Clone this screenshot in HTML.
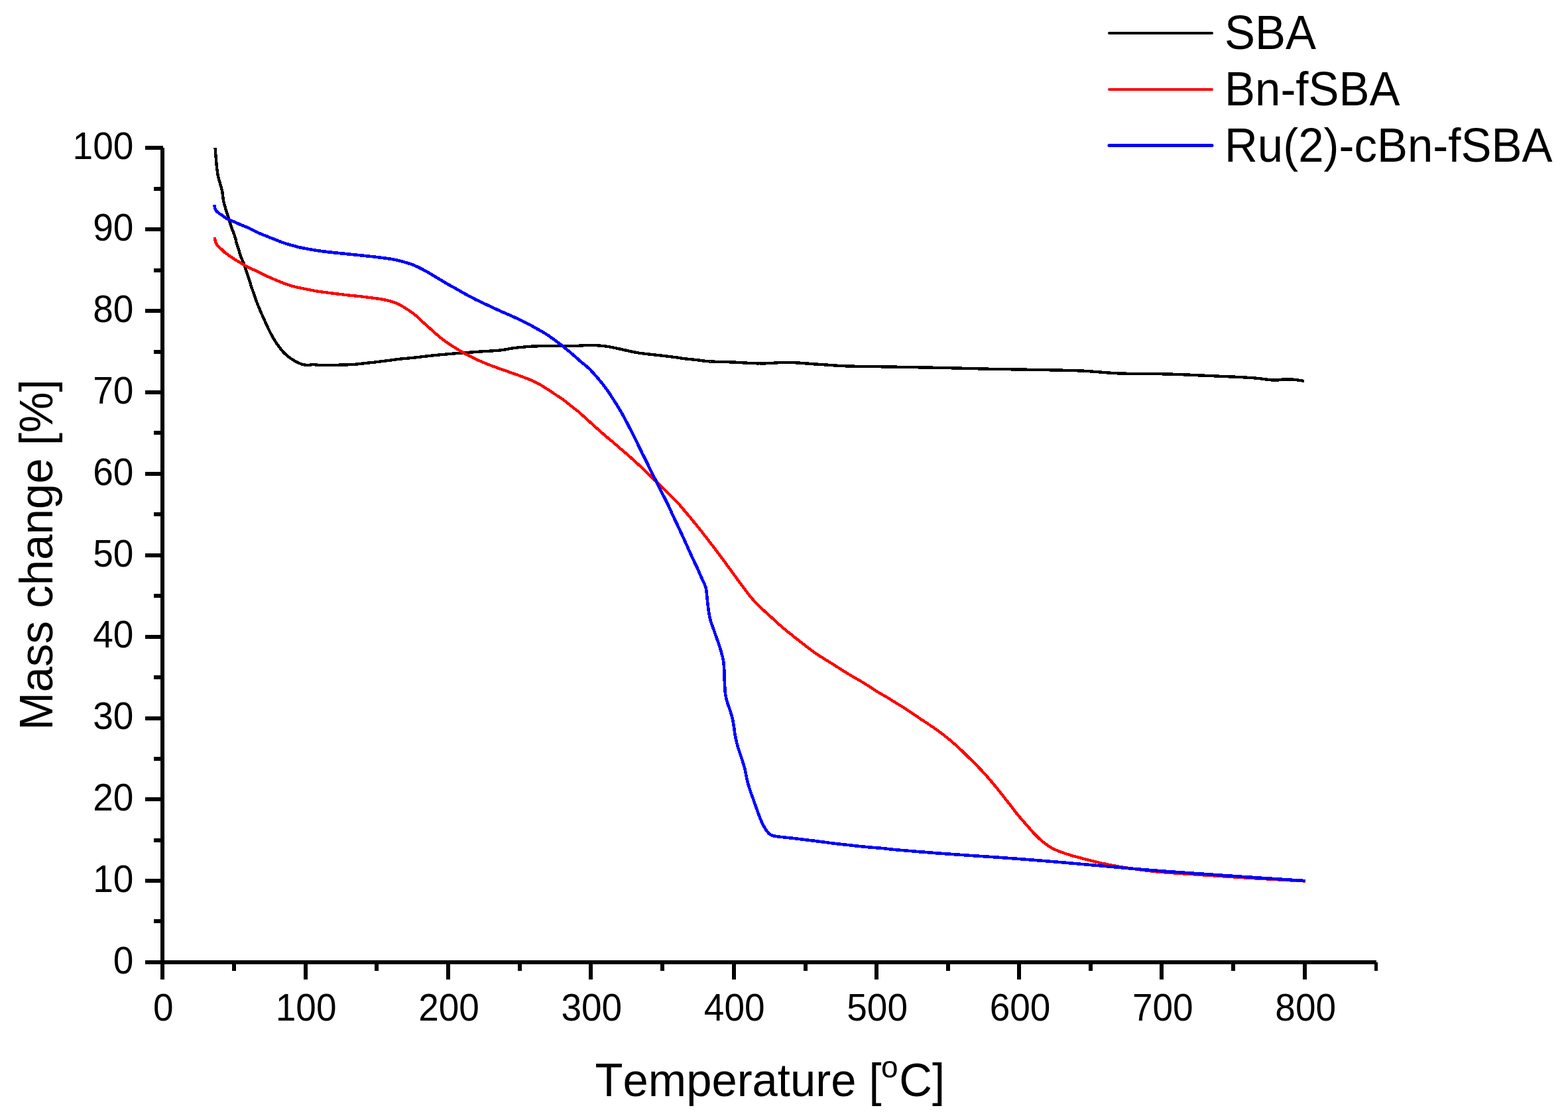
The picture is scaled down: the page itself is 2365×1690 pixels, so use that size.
<!DOCTYPE html>
<html lang="en">
<head>
<meta charset="utf-8">
<title>TGA mass change vs temperature</title>
<style>
html,body{margin:0;padding:0;background:#fff;}
body{width:2365px;height:1690px;overflow:hidden;}
svg{display:block;}
text{font-family:"Liberation Sans",Arial,Helvetica,sans-serif;fill:#000;font-kerning:none;font-variant-ligatures:none;}
.tick{font-size:55px;}
.title{font-size:68.8px;}
.leg{font-size:69px;}
.ax{fill:#000;shape-rendering:crispEdges;}
.curve{fill:none;stroke-width:4.4;stroke-linejoin:round;stroke-linecap:butt;shape-rendering:crispEdges;}
</style>
</head>
<body>
<svg width="2365" height="1690" viewBox="0 0 2365 1690">
<rect x="0" y="0" width="2365" height="1690" fill="#fff"/>
<g class="ax">
<rect x="242" y="223" width="6" height="1255"/>
<rect x="219" y="1449" width="1857" height="6"/>
<rect x="232" y="1387" width="12" height="6"/>
<rect x="219" y="1326" width="27" height="6"/>
<rect x="232" y="1265" width="12" height="6"/>
<rect x="219" y="1203" width="27" height="6"/>
<rect x="232" y="1142" width="12" height="6"/>
<rect x="219" y="1081" width="27" height="6"/>
<rect x="232" y="1019" width="12" height="6"/>
<rect x="219" y="958" width="27" height="6"/>
<rect x="232" y="896" width="12" height="6"/>
<rect x="219" y="835" width="27" height="6"/>
<rect x="232" y="773" width="12" height="6"/>
<rect x="219" y="712" width="27" height="6"/>
<rect x="232" y="650" width="12" height="6"/>
<rect x="219" y="589" width="27" height="6"/>
<rect x="232" y="528" width="12" height="6"/>
<rect x="219" y="466" width="27" height="6"/>
<rect x="232" y="405" width="12" height="6"/>
<rect x="219" y="343" width="27" height="6"/>
<rect x="232" y="282" width="12" height="6"/>
<rect x="219" y="220" width="27" height="6"/>
<rect x="350" y="1452" width="6" height="13"/>
<rect x="458" y="1452" width="6" height="26"/>
<rect x="565" y="1452" width="6" height="13"/>
<rect x="673" y="1452" width="6" height="26"/>
<rect x="781" y="1452" width="6" height="13"/>
<rect x="888" y="1452" width="6" height="26"/>
<rect x="996" y="1452" width="6" height="13"/>
<rect x="1104" y="1452" width="6" height="26"/>
<rect x="1212" y="1452" width="6" height="13"/>
<rect x="1319" y="1452" width="6" height="26"/>
<rect x="1427" y="1452" width="6" height="13"/>
<rect x="1534" y="1452" width="6" height="26"/>
<rect x="1642" y="1452" width="6" height="13"/>
<rect x="1749" y="1452" width="6" height="26"/>
<rect x="1857" y="1452" width="6" height="13"/>
<rect x="1965" y="1452" width="6" height="26"/>
<rect x="2073" y="1452" width="5" height="13"/>
</g>
<g class="tick">
<text transform="translate(201.3 1469.0) scale(1 1.028)" text-anchor="end">0</text>
<text transform="translate(201.3 1346.1) scale(1 1.028)" text-anchor="end">10</text>
<text transform="translate(201.3 1223.2) scale(1 1.028)" text-anchor="end">20</text>
<text transform="translate(201.3 1100.3) scale(1 1.028)" text-anchor="end">30</text>
<text transform="translate(201.3 977.4) scale(1 1.028)" text-anchor="end">40</text>
<text transform="translate(201.3 854.5) scale(1 1.028)" text-anchor="end">50</text>
<text transform="translate(201.3 731.6) scale(1 1.028)" text-anchor="end">60</text>
<text transform="translate(201.3 608.7) scale(1 1.028)" text-anchor="end">70</text>
<text transform="translate(201.3 485.8) scale(1 1.028)" text-anchor="end">80</text>
<text transform="translate(201.3 362.9) scale(1 1.028)" text-anchor="end">90</text>
<text transform="translate(201.3 240.0) scale(1 1.028)" text-anchor="end">100</text>
<text transform="translate(246.2 1539.6) scale(1 1.028)" text-anchor="middle">0</text>
<text transform="translate(461.6 1539.6) scale(1 1.028)" text-anchor="middle">100</text>
<text transform="translate(677.0 1539.6) scale(1 1.028)" text-anchor="middle">200</text>
<text transform="translate(892.3 1539.6) scale(1 1.028)" text-anchor="middle">300</text>
<text transform="translate(1107.7 1539.6) scale(1 1.028)" text-anchor="middle">400</text>
<text transform="translate(1323.1 1539.6) scale(1 1.028)" text-anchor="middle">500</text>
<text transform="translate(1538.5 1539.6) scale(1 1.028)" text-anchor="middle">600</text>
<text transform="translate(1753.8 1539.6) scale(1 1.028)" text-anchor="middle">700</text>
<text transform="translate(1969.2 1539.6) scale(1 1.028)" text-anchor="middle">800</text>
</g>
<text class="title" transform="translate(0 1653.9) scale(1 1.020)"><tspan x="897.6">Temperature [</tspan><tspan x="1329.1" dy="-27.6" font-size="46">o</tspan><tspan x="1356.3" dy="27.6">C]</tspan></text>
<text class="title" style="font-size:69.05px" transform="translate(79 1102.0) rotate(-90) scale(1 1.020)">Mass change [%]</text>
<g class="curve">
<path stroke="#000" d="M324.5 223.0L
324.7 225.0 324.8 227.0 325.0 229.0 325.2 231.0 325.3 233.0 325.5 235.0 325.6 237.0 325.8 238.9 326.0 240.9
326.1 242.9 326.3 244.9 326.4 246.9 326.6 248.9 326.8 250.9 327.0 252.9 327.2 254.9 327.5 256.9 327.8 258.8
328.1 260.8 328.4 262.8 328.8 264.8 329.1 266.7 329.6 268.7 330.0 270.6 330.6 272.5 331.2 274.4 331.8 276.3
332.4 278.2 333.0 280.2 333.6 282.1 334.1 284.0 334.6 286.0 335.0 287.9 335.4 289.9 335.6 291.8 335.9 293.8
336.1 295.8 336.4 297.8 336.6 299.8 337.0 301.8 337.3 303.7 337.7 305.7 338.2 307.6 338.7 309.6 339.2 311.5
339.8 313.4 340.4 315.3 341.0 317.2 341.5 319.1 342.1 321.1 342.7 323.0 343.4 324.9 344.0 326.8 344.6 328.7
345.2 330.6 345.8 332.5 346.4 334.4 347.0 336.3 347.6 338.2 348.2 340.1 348.8 342.0 349.4 343.9 350.1 345.8
350.8 347.6 351.6 349.5 352.3 351.4 353.1 353.2 353.7 355.1 354.3 357.0 354.9 358.9 355.4 360.9 355.9 362.8
356.3 364.8 356.8 366.7 357.4 368.6 358.0 370.5 358.6 372.4 359.2 374.3 359.8 376.2 360.4 378.1 361.0 380.0
361.6 382.0 362.2 383.9 362.8 385.8 363.5 387.6 364.2 389.5 365.0 391.3 365.8 393.2 366.6 395.0 367.3 396.9
368.0 398.7 368.7 400.6 369.3 402.5 369.9 404.4 370.6 406.3 371.2 408.2 371.9 410.1 372.6 412.0 373.2 413.9
373.9 415.8 374.5 417.7 375.1 419.6 375.7 421.5 376.3 423.4 376.9 425.3 377.5 427.2 378.1 429.1 378.6 431.0
379.3 432.9 379.9 434.8 380.6 436.7 381.2 438.6 381.9 440.5 382.6 442.4 383.2 444.3 383.9 446.2 384.5 448.0
385.2 449.9 385.8 451.8 386.5 453.7 387.2 455.6 387.9 457.5 388.6 459.3 389.4 461.2 390.1 463.0 390.9 464.9
391.7 466.7 392.4 468.6 393.2 470.4 394.0 472.2 394.8 474.1 395.7 475.9 396.5 477.7 397.3 479.5 398.1 481.4
398.9 483.2 399.7 485.0 400.5 486.9 401.3 488.7 402.2 490.5 403.0 492.3 403.9 494.1 404.7 495.9 405.6 497.7
406.5 499.5 407.4 501.3 408.3 503.1 409.3 504.8 410.2 506.6 411.2 508.3 412.2 510.1 413.2 511.8 414.3 513.5
415.3 515.2 416.4 516.9 417.5 518.5 418.6 520.2 419.8 521.9 421.0 523.5 422.2 525.1 423.4 526.7 424.6 528.2
426.0 529.7 427.3 531.2 428.7 532.6 430.1 534.0 431.6 535.3 433.1 536.7 434.7 537.9 436.3 539.2 437.9 540.4
439.5 541.5 441.2 542.6 442.9 543.7 444.6 544.7 446.4 545.6 448.2 546.5 450.0 547.4 451.8 548.2 453.7 549.0
455.6 549.6 457.5 550.1 459.5 550.5 461.4 550.8 463.4 551.0 465.4 551.0 467.3 550.8 469.2 550.4 471.1 550.1
473.0 550.1 474.9 550.2 476.9 550.5 478.8 550.7 480.8 550.8 482.8 550.9 484.8 551.0 486.8 551.0 488.8 551.1
490.9 551.1 492.9 551.1 494.9 551.1 496.9 551.1 498.9 551.0 500.9 551.0 502.9 550.9 504.9 550.9 506.9 550.8
508.9 550.7 510.9 550.7 512.9 550.6 514.9 550.5 516.9 550.5 518.9 550.4 520.9 550.4 522.9 550.4 524.9 550.3
526.9 550.2 528.9 550.2 530.8 550.1 532.8 550.0 534.8 549.8 536.8 549.6 538.8 549.4 540.8 549.2 542.8 549.0
544.8 548.7 546.8 548.5 548.8 548.3 550.7 548.1 552.7 547.9 554.7 547.6 556.7 547.4 558.7 547.2 560.7 547.0
562.7 546.8 564.7 546.6 566.7 546.3 568.6 546.1 570.6 545.9 572.6 545.6 574.6 545.4 576.6 545.1 578.6 544.9
580.6 544.6 582.5 544.4 584.5 544.1 586.5 543.9 588.5 543.6 590.5 543.4 592.5 543.1 594.4 542.8 596.4 542.5
598.4 542.3 600.4 542.0 602.4 541.8 604.4 541.6 606.3 541.4 608.3 541.2 610.3 541.0 612.3 540.8 614.3 540.7
616.3 540.5 618.3 540.3 620.3 540.2 622.3 540.0 624.3 539.7 626.3 539.5 628.2 539.3 630.2 539.1 632.2 538.8
634.2 538.6 636.2 538.3 638.2 538.1 640.2 537.9 642.1 537.6 644.1 537.4 646.1 537.2 648.1 536.9 650.1 536.7
652.1 536.5 654.1 536.3 656.1 536.1 658.1 535.9 660.0 535.7 662.0 535.5 664.0 535.3 666.0 535.1 668.0 534.9
670.0 534.8 672.0 534.6 674.0 534.4 676.0 534.2 678.0 534.0 680.0 533.9 682.0 533.7 683.9 533.5 685.9 533.4
687.9 533.2 689.9 533.1 691.9 532.9 693.9 532.8 695.9 532.6 697.9 532.4 699.9 532.3 701.9 532.1 703.9 532.0
705.9 531.8 707.9 531.7 709.9 531.5 711.9 531.4 713.9 531.3 715.9 531.1 717.9 531.0 719.8 530.8 721.8 530.7
723.8 530.6 725.8 530.4 727.8 530.3 729.8 530.2 731.8 530.1 733.8 529.9 735.8 529.8 737.8 529.7 739.8 529.6
741.8 529.4 743.8 529.3 745.8 529.1 747.8 529.0 749.8 528.8 751.8 528.7 753.8 528.5 755.8 528.3 757.7 528.1
759.7 527.8 761.7 527.5 763.7 527.2 765.6 526.8 767.6 526.4 769.6 526.0 771.5 525.7 773.5 525.4 775.5 525.1
777.5 524.9 779.5 524.7 781.5 524.4 783.4 524.2 785.4 524.0 787.4 523.9 789.4 523.7 791.4 523.5 793.4 523.3
795.4 523.2 797.4 523.0 799.4 522.8 801.4 522.7 803.4 522.6 805.4 522.5 807.4 522.4 809.4 522.3 811.4 522.3
813.4 522.2 815.4 522.2 817.4 522.1 819.4 522.1 821.4 522.1 823.4 522.0 825.4 522.0 827.4 522.0 829.4 522.0
831.4 521.9 833.4 521.9 835.4 521.9 837.4 521.9 839.4 521.8 841.4 521.8 843.4 521.8 845.4 521.8 847.4 521.8
849.4 521.7 851.4 521.7 853.4 521.7 855.4 521.7 857.4 521.7 859.4 521.7 861.4 521.7 863.4 521.7 865.4 521.7
867.4 521.7 869.4 521.7 871.4 521.7 873.4 521.7 875.4 521.6 877.4 521.6 879.4 521.4 881.3 521.2 883.3 521.0
885.3 520.9 887.3 520.8 889.3 520.8 891.3 520.8 893.3 520.9 895.3 521.0 897.3 521.1 899.3 521.2 901.3 521.3
903.3 521.5 905.3 521.7 907.3 521.8 909.3 522.0 911.3 522.2 913.3 522.5 915.2 522.7 917.2 523.0 919.2 523.4
921.2 523.7 923.1 524.1 925.1 524.5 927.0 524.9 929.0 525.3 931.0 525.7 932.9 526.1 934.9 526.6 936.8 527.0
938.8 527.4 940.7 527.9 942.7 528.3 944.6 528.8 946.6 529.2 948.5 529.6 950.5 530.0 952.5 530.5 954.4 530.9
956.4 531.3 958.3 531.7 960.3 532.0 962.3 532.4 964.2 532.7 966.2 533.0 968.2 533.2 970.2 533.5 972.2 533.7
974.2 533.9 976.1 534.2 978.1 534.4 980.1 534.6 982.1 534.8 984.1 535.1 986.1 535.3 988.1 535.5 990.1 535.7
992.1 536.0 994.0 536.2 996.0 536.4 998.0 536.6 1000.0 536.9 1002.0 537.1 1004.0 537.3 1006.0 537.5
1007.9 537.8 1009.9 538.0 1011.9 538.3 1013.9 538.5 1015.9 538.8 1017.9 539.0 1019.8 539.3 1021.8 539.6
1023.8 539.9 1025.8 540.2 1027.8 540.5 1029.7 540.8 1031.7 541.1 1033.7 541.4 1035.7 541.6 1037.7 541.8
1039.7 542.0 1041.6 542.2 1043.6 542.4 1045.6 542.6 1047.6 542.8 1049.6 543.0 1051.6 543.2 1053.6 543.5
1055.6 543.7 1057.6 544.0 1059.5 544.3 1061.5 544.5 1063.5 544.8 1065.5 545.0 1067.5 545.2 1069.5 545.3
1071.5 545.5 1073.5 545.5 1075.5 545.6 1077.5 545.7 1079.5 545.8 1081.5 545.8 1083.5 545.9 1085.5 545.9
1087.5 546.0 1089.5 546.0 1091.5 546.1 1093.5 546.1 1095.5 546.2 1097.5 546.2 1099.5 546.3 1101.5 546.4
1103.5 546.4 1105.5 546.5 1107.5 546.6 1109.5 546.7 1111.5 546.8 1113.5 546.9 1115.5 547.0 1117.4 547.1
1119.4 547.2 1121.4 547.4 1123.4 547.5 1125.4 547.6 1127.4 547.7 1129.4 547.8 1131.4 547.9 1133.4 548.0
1135.4 548.1 1137.4 548.1 1139.4 548.2 1141.4 548.3 1143.4 548.3 1145.4 548.3 1147.4 548.4 1149.4 548.4
1151.4 548.4 1153.4 548.3 1155.4 548.3 1157.4 548.2 1159.4 548.1 1161.4 548.0 1163.4 547.9 1165.4 547.8
1167.4 547.7 1169.4 547.6 1171.4 547.4 1173.4 547.3 1175.4 547.2 1177.4 547.1 1179.4 547.0 1181.4 547.0
1183.4 546.9 1185.4 546.9 1187.4 546.9 1189.4 547.0 1191.4 547.0 1193.4 547.0 1195.4 547.1 1197.4 547.2
1199.4 547.3 1201.4 547.4 1203.4 547.5 1205.4 547.6 1207.4 547.8 1209.4 547.9 1211.3 548.1 1213.3 548.2
1215.3 548.4 1217.3 548.5 1219.3 548.7 1221.3 548.8 1223.3 549.0 1225.3 549.1 1227.3 549.3 1229.3 549.4
1231.3 549.5 1233.3 549.7 1235.3 549.8 1237.3 549.9 1239.3 550.0 1241.3 550.2 1243.3 550.3 1245.3 550.5
1247.3 550.6 1249.3 550.7 1251.3 550.9 1253.3 551.0 1255.3 551.2 1257.3 551.3 1259.3 551.4 1261.3 551.6
1263.3 551.7 1265.2 551.8 1267.2 551.9 1269.2 552.0 1271.2 552.1 1273.2 552.2 1275.2 552.3 1277.2 552.4
1279.2 552.4 1281.2 552.5 1283.2 552.5 1285.2 552.6 1287.2 552.6 1289.2 552.7 1291.2 552.7 1293.2 552.7
1295.2 552.8 1297.2 552.8 1299.2 552.9 1301.2 552.9 1303.2 552.9 1305.2 552.9 1307.2 553.0 1309.2 553.0
1311.2 553.0 1313.2 553.1 1315.2 553.1 1317.2 553.1 1319.2 553.1 1321.2 553.2 1323.2 553.2 1325.2 553.2
1327.2 553.2 1329.2 553.3 1331.2 553.3 1333.2 553.3 1335.2 553.4 1337.2 553.4 1339.2 553.4 1341.2 553.5
1343.2 553.5 1345.2 553.5 1347.2 553.6 1349.2 553.6 1351.2 553.6 1353.2 553.7 1355.2 553.7 1357.2 553.7
1359.2 553.8 1361.2 553.8 1363.2 553.8 1365.2 553.9 1367.2 553.9 1369.2 554.0 1371.2 554.0 1373.2 554.0
1375.2 554.1 1377.2 554.1 1379.2 554.1 1381.2 554.2 1383.2 554.2 1385.2 554.3 1387.2 554.3 1389.2 554.3
1391.2 554.4 1393.2 554.4 1395.2 554.4 1397.2 554.5 1399.2 554.5 1401.2 554.6 1403.2 554.6 1405.2 554.6
1407.2 554.7 1409.2 554.7 1411.2 554.8 1413.2 554.8 1415.2 554.8 1417.2 554.9 1419.2 554.9 1421.2 555.0
1423.2 555.0 1425.2 555.1 1427.2 555.1 1429.2 555.1 1431.2 555.2 1433.2 555.2 1435.2 555.3 1437.2 555.3
1439.2 555.4 1441.2 555.4 1443.2 555.5 1445.2 555.5 1447.2 555.6 1449.2 555.6 1451.2 555.7 1453.2 555.7
1455.2 555.8 1457.2 555.8 1459.2 555.9 1461.2 555.9 1463.2 556.0 1465.2 556.0 1467.2 556.1 1469.2 556.1
1471.2 556.2 1473.2 556.2 1475.2 556.3 1477.2 556.3 1479.2 556.4 1481.2 556.4 1483.2 556.5 1485.2 556.5
1487.2 556.6 1489.2 556.6 1491.2 556.7 1493.2 556.7 1495.2 556.7 1497.2 556.8 1499.2 556.8 1501.2 556.9
1503.2 556.9 1505.2 556.9 1507.2 557.0 1509.2 557.0 1511.2 557.0 1513.2 557.1 1515.2 557.1 1517.2 557.1
1519.2 557.2 1521.2 557.2 1523.2 557.2 1525.2 557.3 1527.2 557.3 1529.2 557.3 1531.2 557.4 1533.2 557.4
1535.2 557.4 1537.2 557.5 1539.2 557.5 1541.2 557.5 1543.2 557.6 1545.2 557.6 1547.2 557.6 1549.2 557.7
1551.2 557.7 1553.2 557.7 1555.2 557.8 1557.2 557.8 1559.2 557.8 1561.2 557.8 1563.2 557.9 1565.2 557.9
1567.2 558.0 1569.2 558.0 1571.2 558.0 1573.2 558.1 1575.2 558.1 1577.2 558.1 1579.2 558.2 1581.2 558.2
1583.2 558.3 1585.2 558.3 1587.2 558.3 1589.2 558.4 1591.2 558.4 1593.2 558.5 1595.2 558.5 1597.2 558.6
1599.2 558.6 1601.2 558.6 1603.2 558.7 1605.2 558.7 1607.2 558.8 1609.2 558.8 1611.2 558.9 1613.2 558.9
1615.2 559.0 1617.2 559.1 1619.2 559.1 1621.2 559.2 1623.2 559.2 1625.2 559.3 1627.2 559.4 1629.2 559.5
1631.2 559.5 1633.2 559.6 1635.2 559.7 1637.2 559.8 1639.2 560.0 1641.1 560.1 1643.1 560.2 1645.1 560.4
1647.1 560.5 1649.1 560.7 1651.1 560.8 1653.1 561.0 1655.1 561.2 1657.1 561.3 1659.1 561.5 1661.1 561.6
1663.1 561.8 1665.1 562.0 1667.1 562.1 1669.1 562.3 1671.1 562.4 1673.1 562.6 1675.1 562.7 1677.1 562.8
1679.1 563.0 1681.1 563.1 1683.1 563.2 1685.0 563.3 1687.0 563.4 1689.0 563.5 1691.0 563.5 1693.0 563.6
1695.0 563.6 1697.0 563.6 1699.0 563.7 1701.0 563.7 1703.0 563.7 1705.0 563.8 1707.0 563.8 1709.0 563.8
1711.0 563.8 1713.0 563.8 1715.0 563.9 1717.0 563.9 1719.0 563.9 1721.0 563.9 1723.0 563.9 1725.0 563.9
1727.0 564.0 1729.0 564.0 1731.0 564.0 1733.0 564.0 1735.0 564.0 1737.0 564.0 1739.0 564.1 1741.0 564.1
1743.0 564.1 1745.0 564.1 1747.0 564.2 1749.0 564.2 1751.0 564.2 1753.0 564.3 1755.0 564.3 1757.0 564.4
1759.0 564.4 1761.0 564.5 1763.0 564.5 1765.0 564.6 1767.0 564.6 1769.0 564.7 1771.0 564.8 1773.0 564.8
1775.0 564.9 1777.0 565.0 1779.0 565.1 1781.0 565.1 1783.0 565.2 1785.0 565.3 1787.0 565.4 1789.0 565.5
1791.0 565.5 1793.0 565.6 1795.0 565.7 1797.0 565.8 1799.0 565.9 1801.0 566.0 1803.0 566.1 1805.0 566.2
1807.0 566.3 1809.0 566.3 1811.0 566.4 1813.0 566.5 1815.0 566.6 1817.0 566.7 1819.0 566.8 1821.0 566.9
1823.0 567.0 1825.0 567.1 1827.0 567.1 1829.0 567.2 1831.0 567.3 1833.0 567.4 1835.0 567.5 1837.0 567.6
1839.0 567.7 1841.0 567.7 1843.0 567.8 1845.0 567.9 1847.0 568.0 1849.0 568.1 1851.0 568.2 1853.0 568.3
1855.0 568.3 1857.0 568.4 1859.0 568.5 1861.0 568.6 1863.0 568.7 1865.0 568.8 1867.0 568.9 1869.0 569.0
1870.9 569.1 1872.9 569.2 1874.9 569.3 1876.9 569.5 1878.9 569.6 1880.9 569.7 1882.9 569.8 1884.9 569.9
1886.9 570.1 1888.9 570.2 1890.9 570.3 1892.9 570.5 1894.9 570.7 1896.9 570.9 1898.9 571.1 1900.9 571.3
1902.9 571.6 1904.8 571.8 1906.8 572.1 1908.8 572.4 1910.8 572.6 1912.8 572.9 1914.8 573.1 1916.8 573.3
1918.8 573.4 1920.8 573.5 1922.8 573.6 1924.7 573.6 1926.7 573.5 1928.7 573.3 1930.7 573.1 1932.7 572.8
1934.7 572.5 1936.7 572.4 1938.7 572.3 1940.6 572.3 1942.6 572.3 1944.6 572.3 1946.6 572.4 1948.6 572.5
1950.6 572.7 1952.6 572.8 1954.6 573.0 1956.6 573.3 1958.5 573.6 1960.5 573.9 1962.5 574.2 1964.5 574.7
1966.5 575.1 1967.0 575.2"/>
<path stroke="#f00" d="M324.0 358.1L
324.2 360.1 324.4 362.1 324.8 364.0 325.4 365.9 326.2 367.7 327.2 369.4 328.4 371.0 329.8 372.4 331.3 373.7
332.8 375.0 334.3 376.3 335.7 377.7 337.1 379.1 338.5 380.5 340.0 381.7 341.7 382.8 343.3 384.0 344.9 385.2
346.6 386.3 348.2 387.5 349.9 388.6 351.5 389.7 353.2 390.8 354.9 391.9 356.6 392.9 358.3 394.0 360.0 395.0
361.7 396.0 363.5 397.0 365.2 398.0 366.9 399.0 368.7 400.0 370.4 401.0 372.2 401.9 373.9 402.9 375.7 403.8
377.5 404.7 379.3 405.5 381.1 406.4 382.9 407.2 384.8 408.0 386.6 408.8 388.4 409.6 390.2 410.5 392.0 411.4
393.8 412.3 395.6 413.2 397.4 414.1 399.2 415.0 401.0 415.9 402.8 416.7 404.6 417.6 406.4 418.4 408.2 419.2
410.1 420.0 411.9 420.8 413.7 421.6 415.6 422.4 417.4 423.2 419.3 423.9 421.1 424.7 423.0 425.4 424.8 426.2
426.7 426.9 428.6 427.6 430.5 428.3 432.3 428.9 434.2 429.6 436.1 430.2 438.0 430.8 440.0 431.4 441.9 431.9
443.8 432.4 445.8 432.9 447.7 433.4 449.7 433.8 451.6 434.2 453.6 434.6 455.5 435.0 457.5 435.4 459.5 435.8
461.4 436.2 463.4 436.6 465.3 437.0 467.3 437.4 469.3 437.8 471.2 438.2 473.2 438.5 475.2 438.9 477.1 439.2
479.1 439.6 481.1 439.9 483.1 440.1 485.0 440.4 487.0 440.7 489.0 441.0 491.0 441.2 493.0 441.5 495.0 441.7
496.9 442.0 498.9 442.2 500.9 442.5 502.9 442.7 504.9 443.0 506.9 443.2 508.8 443.5 510.8 443.7 512.8 443.9
514.8 444.2 516.8 444.4 518.8 444.7 520.8 444.9 522.7 445.2 524.7 445.4 526.7 445.6 528.7 445.8 530.7 446.0
532.7 446.2 534.7 446.4 536.7 446.6 538.7 446.8 540.7 447.0 542.6 447.2 544.6 447.4 546.6 447.7 548.6 447.9
550.6 448.1 552.6 448.4 554.6 448.6 556.5 448.9 558.5 449.1 560.5 449.4 562.5 449.6 564.5 449.9 566.5 450.2
568.4 450.4 570.4 450.7 572.4 451.1 574.4 451.4 576.3 451.7 578.3 452.1 580.3 452.5 582.2 452.9 584.2 453.3
586.1 453.8 588.1 454.3 590.0 454.8 591.9 455.4 593.8 456.0 595.7 456.7 597.6 457.4 599.4 458.2 601.2 459.0
603.0 459.9 604.7 460.9 606.5 461.9 608.2 462.9 609.9 463.9 611.6 465.0 613.3 466.1 615.0 467.2 616.7 468.3
618.3 469.4 620.0 470.6 621.6 471.7 623.2 472.9 624.7 474.2 626.3 475.4 627.8 476.7 629.3 478.1 630.7 479.4
632.2 480.8 633.7 482.2 635.1 483.5 636.6 484.9 638.1 486.2 639.6 487.6 641.1 488.9 642.6 490.2 644.1 491.6
645.6 492.9 647.1 494.2 648.5 495.5 650.0 496.9 651.5 498.2 653.0 499.6 654.5 500.9 656.0 502.3 657.5 503.6
659.0 504.9 660.5 506.2 662.0 507.5 663.5 508.8 665.1 510.0 666.7 511.3 668.2 512.5 669.8 513.7 671.4 514.9
673.1 516.1 674.7 517.2 676.4 518.3 678.0 519.4 679.7 520.5 681.4 521.6 683.1 522.6 684.8 523.7 686.5 524.7
688.2 525.8 689.9 526.8 691.6 527.9 693.3 529.0 695.0 530.0 696.7 531.0 698.5 532.0 700.2 533.0 701.9 534.0
703.7 535.0 705.5 535.9 707.2 536.8 709.0 537.7 710.8 538.6 712.6 539.5 714.4 540.4 716.2 541.2 718.0 542.1
719.9 542.9 721.7 543.7 723.5 544.5 725.3 545.3 727.2 546.1 729.0 546.9 730.9 547.7 732.7 548.5 734.6 549.2
736.4 549.9 738.3 550.7 740.2 551.4 742.0 552.1 743.9 552.8 745.8 553.5 747.7 554.1 749.5 554.8 751.4 555.5
753.3 556.2 755.2 556.9 757.1 557.5 759.0 558.2 760.9 558.9 762.7 559.5 764.6 560.2 766.5 560.8 768.4 561.5
770.3 562.1 772.2 562.8 774.1 563.5 776.0 564.1 777.8 564.8 779.7 565.5 781.6 566.2 783.5 566.9 785.3 567.6
787.2 568.3 789.1 569.0 791.0 569.7 792.8 570.4 794.7 571.1 796.6 571.8 798.4 572.6 800.3 573.3 802.1 574.1
803.9 574.9 805.8 575.8 807.6 576.6 809.4 577.5 811.1 578.5 812.9 579.4 814.6 580.4 816.3 581.4 818.0 582.5
819.7 583.5 821.4 584.6 823.1 585.7 824.8 586.7 826.5 587.8 828.2 588.9 829.8 590.0 831.5 591.1 833.2 592.2
834.8 593.3 836.5 594.5 838.2 595.6 839.8 596.7 841.5 597.8 843.2 598.9 844.9 600.0 846.5 601.1 848.1 602.2
849.8 603.4 851.4 604.6 853.0 605.8 854.5 607.0 856.1 608.3 857.7 609.5 859.2 610.8 860.8 612.0 862.4 613.3
863.9 614.5 865.5 615.8 867.1 617.0 868.6 618.2 870.2 619.5 871.8 620.7 873.3 622.0 874.8 623.3 876.3 624.6
877.8 626.0 879.3 627.3 880.8 628.6 882.3 630.0 883.7 631.3 885.2 632.7 886.7 634.0 888.2 635.4 889.7 636.7
891.1 638.1 892.6 639.4 894.1 640.7 895.6 642.1 897.1 643.4 898.6 644.8 900.1 646.1 901.5 647.4 903.0 648.8
904.5 650.1 906.0 651.5 907.5 652.8 909.0 654.1 910.5 655.4 912.0 656.7 913.5 658.0 915.1 659.3 916.6 660.6
918.2 661.8 919.7 663.1 921.3 664.4 922.8 665.7 924.3 667.0 925.8 668.3 927.3 669.6 928.8 670.9 930.4 672.2
931.9 673.5 933.4 674.8 934.9 676.2 936.4 677.5 937.9 678.8 939.4 680.1 941.0 681.3 942.5 682.6 944.0 683.9
945.5 685.2 947.0 686.6 948.5 687.9 950.0 689.2 951.5 690.5 953.0 691.9 954.5 693.2 956.0 694.5 957.5 695.9
958.9 697.2 960.4 698.6 961.9 700.0 963.3 701.3 964.8 702.7 966.3 704.1 967.7 705.4 969.2 706.8 970.6 708.2
972.1 709.6 973.5 711.0 975.0 712.3 976.4 713.7 977.9 715.1 979.3 716.5 980.8 717.8 982.2 719.2 983.7 720.6
985.1 722.0 986.5 723.4 987.9 724.8 989.4 726.2 990.8 727.6 992.2 729.0 993.6 730.4 995.0 731.8 996.5 733.3
997.9 734.7 999.3 736.1 1000.7 737.5 1002.2 738.9 1003.6 740.3 1005.0 741.7 1006.4 743.1 1007.9 744.5
1009.3 745.9 1010.7 747.3 1012.2 748.7 1013.6 750.1 1015.0 751.4 1016.5 752.8 1017.9 754.2 1019.3 755.7
1020.7 757.1 1022.1 758.6 1023.4 760.0 1024.7 761.5 1026.0 763.0 1027.3 764.6 1028.6 766.1 1029.9 767.6
1031.2 769.2 1032.5 770.7 1033.8 772.2 1035.1 773.8 1036.3 775.3 1037.6 776.8 1038.9 778.4 1040.2 779.9
1041.5 781.4 1042.8 783.0 1044.0 784.5 1045.3 786.0 1046.6 787.6 1047.9 789.1 1049.1 790.7 1050.4 792.3
1051.6 793.8 1052.9 795.4 1054.1 796.9 1055.3 798.5 1056.6 800.1 1057.8 801.6 1059.1 803.2 1060.3 804.8
1061.5 806.4 1062.8 808.0 1064.0 809.5 1065.2 811.1 1066.4 812.7 1067.7 814.3 1068.9 815.9 1070.1 817.5
1071.3 819.0 1072.5 820.6 1073.8 822.2 1075.0 823.8 1076.2 825.4 1077.4 827.0 1078.6 828.6 1079.8 830.1
1081.0 831.7 1082.2 833.3 1083.4 834.9 1084.6 836.5 1085.8 838.1 1087.0 839.7 1088.2 841.3 1089.4 843.0
1090.6 844.6 1091.8 846.2 1093.0 847.8 1094.2 849.4 1095.4 851.0 1096.5 852.6 1097.7 854.2 1098.9 855.9
1100.0 857.5 1101.2 859.1 1102.4 860.7 1103.6 862.4 1104.7 864.0 1105.9 865.6 1107.1 867.2 1108.3 868.8
1109.5 870.4 1110.6 872.0 1111.8 873.6 1113.0 875.2 1114.2 876.8 1115.4 878.4 1116.6 880.0 1117.8 881.6
1119.0 883.3 1120.2 884.9 1121.4 886.5 1122.6 888.1 1123.8 889.7 1124.9 891.3 1126.1 892.9 1127.3 894.5
1128.5 896.1 1129.8 897.7 1131.0 899.2 1132.3 900.8 1133.6 902.3 1134.9 903.8 1136.2 905.3 1137.6 906.8
1138.9 908.3 1140.3 909.7 1141.7 911.2 1143.1 912.6 1144.5 914.0 1146.0 915.4 1147.4 916.8 1148.9 918.2
1150.3 919.5 1151.8 920.9 1153.3 922.2 1154.7 923.6 1156.2 924.9 1157.7 926.3 1159.2 927.6 1160.7 929.0
1162.2 930.3 1163.6 931.6 1165.1 933.0 1166.6 934.3 1168.1 935.7 1169.5 937.0 1171.0 938.4 1172.5 939.8
1173.9 941.1 1175.4 942.5 1176.9 943.8 1178.4 945.1 1179.9 946.4 1181.5 947.7 1183.0 949.0 1184.5 950.3
1186.1 951.5 1187.6 952.8 1189.2 954.1 1190.7 955.3 1192.3 956.6 1193.9 957.8 1195.4 959.1 1197.0 960.3
1198.5 961.6 1200.1 962.8 1201.7 964.1 1203.3 965.3 1204.8 966.5 1206.4 967.7 1208.0 969.0 1209.6 970.2
1211.2 971.4 1212.7 972.6 1214.3 973.8 1215.9 975.1 1217.5 976.3 1219.1 977.5 1220.7 978.8 1222.2 980.0
1223.8 981.2 1225.4 982.4 1227.1 983.5 1228.7 984.7 1230.3 985.8 1232.0 987.0 1233.7 988.1 1235.3 989.2
1237.0 990.3 1238.7 991.3 1240.4 992.4 1242.1 993.5 1243.8 994.5 1245.5 995.6 1247.2 996.6 1248.9 997.7
1250.6 998.7 1252.3 999.8 1254.0 1000.8 1255.7 1001.9 1257.4 1003.0 1259.0 1004.1 1260.7 1005.1 1262.4 1006.2
1264.1 1007.3 1265.8 1008.3 1267.5 1009.4 1269.2 1010.5 1270.9 1011.5 1272.6 1012.6 1274.3 1013.7
1276.0 1014.7 1277.7 1015.8 1279.4 1016.8 1281.1 1017.9 1282.8 1018.9 1284.5 1019.9 1286.2 1020.9
1288.0 1022.0 1289.7 1023.0 1291.4 1023.9 1293.2 1024.9 1294.9 1025.9 1296.7 1026.9 1298.4 1027.9
1300.1 1028.9 1301.8 1029.9 1303.5 1031.0 1305.2 1032.0 1306.9 1033.1 1308.6 1034.2 1310.3 1035.3
1311.9 1036.4 1313.6 1037.5 1315.3 1038.6 1316.9 1039.7 1318.6 1040.8 1320.3 1041.9 1322.0 1043.0
1323.7 1044.0 1325.4 1045.0 1327.1 1046.0 1328.9 1047.0 1330.6 1048.0 1332.4 1049.0 1334.1 1050.0
1335.8 1051.0 1337.6 1052.0 1339.3 1053.0 1341.0 1054.1 1342.6 1055.2 1344.3 1056.2 1346.0 1057.3
1347.7 1058.4 1349.4 1059.4 1351.1 1060.5 1352.8 1061.5 1354.5 1062.5 1356.3 1063.6 1358.0 1064.6
1359.7 1065.6 1361.4 1066.7 1363.1 1067.7 1364.8 1068.8 1366.5 1069.9 1368.1 1071.0 1369.8 1072.1
1371.5 1073.2 1373.1 1074.3 1374.8 1075.4 1376.4 1076.5 1378.1 1077.7 1379.7 1078.8 1381.4 1080.0
1383.0 1081.1 1384.7 1082.2 1386.3 1083.4 1388.0 1084.5 1389.6 1085.6 1391.3 1086.7 1393.0 1087.8
1394.6 1088.9 1396.3 1090.0 1398.0 1091.1 1399.6 1092.2 1401.3 1093.4 1403.0 1094.5 1404.6 1095.6
1406.3 1096.7 1408.0 1097.8 1409.6 1098.9 1411.2 1100.1 1412.9 1101.2 1414.5 1102.4 1416.1 1103.6
1417.7 1104.8 1419.3 1106.0 1420.9 1107.2 1422.5 1108.4 1424.0 1109.7 1425.6 1110.9 1427.2 1112.2
1428.7 1113.4 1430.3 1114.7 1431.8 1115.9 1433.4 1117.2 1434.9 1118.5 1436.4 1119.8 1437.9 1121.1
1439.4 1122.4 1440.9 1123.8 1442.4 1125.1 1443.9 1126.4 1445.4 1127.8 1446.9 1129.1 1448.3 1130.5
1449.8 1131.9 1451.2 1133.3 1452.6 1134.7 1454.1 1136.1 1455.5 1137.5 1456.9 1138.9 1458.4 1140.3
1459.8 1141.7 1461.2 1143.1 1462.6 1144.5 1464.1 1145.9 1465.5 1147.3 1466.9 1148.7 1468.3 1150.1
1469.7 1151.5 1471.1 1152.9 1472.6 1154.4 1474.0 1155.8 1475.3 1157.2 1476.7 1158.7 1478.1 1160.1
1479.5 1161.5 1480.9 1163.0 1482.3 1164.5 1483.6 1165.9 1485.0 1167.4 1486.3 1168.9 1487.6 1170.4
1489.0 1171.9 1490.3 1173.4 1491.6 1174.9 1492.9 1176.4 1494.2 1177.9 1495.5 1179.5 1496.8 1181.0
1498.0 1182.5 1499.3 1184.1 1500.6 1185.6 1501.9 1187.2 1503.1 1188.7 1504.4 1190.3 1505.6 1191.8
1506.9 1193.4 1508.1 1194.9 1509.4 1196.5 1510.6 1198.1 1511.9 1199.6 1513.1 1201.2 1514.4 1202.8
1515.6 1204.4 1516.8 1205.9 1518.0 1207.5 1519.3 1209.1 1520.5 1210.7 1521.7 1212.2 1523.0 1213.8
1524.2 1215.4 1525.4 1217.0 1526.6 1218.6 1527.8 1220.2 1529.1 1221.8 1530.3 1223.3 1531.5 1224.9
1532.7 1226.5 1534.0 1228.1 1535.2 1229.6 1536.5 1231.2 1537.8 1232.7 1539.1 1234.2 1540.4 1235.7
1541.7 1237.2 1543.0 1238.7 1544.4 1240.2 1545.7 1241.7 1547.0 1243.2 1548.3 1244.7 1549.7 1246.2
1551.0 1247.7 1552.3 1249.3 1553.6 1250.8 1554.9 1252.3 1556.2 1253.8 1557.5 1255.3 1558.8 1256.8
1560.2 1258.3 1561.6 1259.7 1563.0 1261.1 1564.4 1262.5 1565.9 1263.9 1567.3 1265.3 1568.8 1266.6
1570.3 1267.9 1571.9 1269.2 1573.4 1270.5 1575.0 1271.7 1576.6 1273.0 1578.2 1274.2 1579.8 1275.3
1581.4 1276.5 1583.1 1277.6 1584.8 1278.6 1586.5 1279.6 1588.3 1280.5 1590.1 1281.4 1591.9 1282.2
1593.7 1283.0 1595.6 1283.8 1597.5 1284.6 1599.3 1285.3 1601.2 1286.0 1603.1 1286.7 1605.0 1287.3
1606.9 1288.0 1608.8 1288.6 1610.7 1289.2 1612.6 1289.8 1614.5 1290.4 1616.4 1290.9 1618.3 1291.5
1620.3 1292.0 1622.2 1292.5 1624.1 1293.1 1626.1 1293.6 1628.0 1294.1 1629.9 1294.6 1631.9 1295.1
1633.8 1295.6 1635.7 1296.2 1637.7 1296.7 1639.6 1297.1 1641.5 1297.6 1643.5 1298.1 1645.4 1298.6
1647.4 1299.1 1649.3 1299.6 1651.2 1300.1 1653.2 1300.6 1655.1 1301.1 1657.1 1301.6 1659.0 1302.0
1661.0 1302.5 1662.9 1302.9 1664.9 1303.2 1666.8 1303.6 1668.8 1304.0 1670.8 1304.4 1672.7 1304.8
1674.7 1305.2 1676.7 1305.6 1678.6 1306.0 1680.6 1306.4 1682.5 1306.7 1684.5 1307.1 1686.5 1307.5
1688.4 1307.9 1690.4 1308.2 1692.4 1308.5 1694.3 1308.9 1696.3 1309.2 1698.3 1309.5 1700.3 1309.7
1702.3 1310.0 1704.3 1310.2 1706.2 1310.5 1708.2 1310.8 1710.2 1311.0 1712.2 1311.3 1714.2 1311.6
1716.1 1311.9 1718.1 1312.2 1720.1 1312.5 1722.1 1312.7 1724.1 1313.0 1726.0 1313.2 1728.0 1313.5
1730.0 1313.7 1732.0 1314.0 1734.0 1314.2 1736.0 1314.4 1738.0 1314.6 1740.0 1314.9 1741.9 1315.1
1743.9 1315.3 1745.9 1315.4 1747.9 1315.6 1749.9 1315.8 1751.9 1316.0 1753.9 1316.1 1755.9 1316.3
1757.9 1316.4 1759.9 1316.6 1761.9 1316.7 1763.9 1316.9 1765.9 1317.0 1767.9 1317.2 1769.9 1317.3
1771.9 1317.4 1773.8 1317.6 1775.8 1317.7 1777.8 1317.9 1779.8 1318.0 1781.8 1318.1 1783.8 1318.3
1785.8 1318.4 1787.8 1318.5 1789.8 1318.7 1791.8 1318.8 1793.8 1318.9 1795.8 1319.1 1797.8 1319.2
1799.8 1319.3 1801.8 1319.5 1803.8 1319.6 1805.8 1319.8 1807.8 1319.9 1809.8 1320.0 1811.8 1320.2
1813.8 1320.3 1815.8 1320.4 1817.7 1320.6 1819.7 1320.7 1821.7 1320.8 1823.7 1321.0 1825.7 1321.1
1827.7 1321.2 1829.7 1321.3 1831.7 1321.5 1833.7 1321.6 1835.7 1321.7 1837.7 1321.9 1839.7 1322.0
1841.7 1322.1 1843.7 1322.3 1845.7 1322.4 1847.7 1322.5 1849.7 1322.6 1851.7 1322.8 1853.7 1322.9
1855.7 1323.0 1857.7 1323.2 1859.7 1323.3 1861.7 1323.4 1863.7 1323.5 1865.7 1323.7 1867.6 1323.8
1869.6 1323.9 1871.6 1324.0 1873.6 1324.2 1875.6 1324.3 1877.6 1324.4 1879.6 1324.5 1881.6 1324.7
1883.6 1324.8 1885.6 1324.9 1887.6 1325.0 1889.6 1325.1 1891.6 1325.3 1893.6 1325.4 1895.6 1325.5
1897.6 1325.6 1899.6 1325.7 1901.6 1325.9 1903.6 1326.0 1905.6 1326.1 1907.6 1326.2 1909.6 1326.3
1911.6 1326.4 1913.6 1326.5 1915.6 1326.7 1917.6 1326.8 1919.6 1326.9 1921.6 1327.0 1923.6 1327.1
1925.6 1327.2 1927.5 1327.3 1929.5 1327.4 1931.5 1327.6 1933.5 1327.7 1935.5 1327.8 1937.5 1327.9
1939.5 1328.0 1941.5 1328.1 1943.5 1328.2 1945.5 1328.3 1947.5 1328.4 1949.5 1328.5 1951.5 1328.6
1953.5 1328.7 1955.5 1328.8 1957.5 1328.9 1959.5 1329.0 1961.5 1329.1 1963.5 1329.2 1965.5 1329.3
1967.5 1329.5 1968.5 1329.5"/>
<path stroke="#00f" stroke-width="4.6" d="M323.6 309.1L
323.7 311.1 324.0 313.1 324.5 314.9 325.3 316.7 326.4 318.3 327.8 319.7 329.3 321.0 330.9 322.2 332.5 323.3
334.2 324.4 335.8 325.6 337.4 326.7 339.1 327.9 340.7 329.0 342.4 330.0 344.2 330.9 346.0 331.7 347.9 332.5
349.7 333.3 351.6 334.0 353.4 334.8 355.3 335.6 357.1 336.4 358.9 337.3 360.7 338.1 362.5 339.0 364.4 339.7
366.2 340.5 368.1 341.1 370.0 341.8 371.8 342.6 373.7 343.4 375.5 344.3 377.2 345.1 379.0 346.1 380.8 347.0
382.6 347.9 384.4 348.8 386.2 349.6 388.0 350.5 389.8 351.3 391.7 352.1 393.5 352.9 395.3 353.7 397.2 354.5
399.0 355.2 400.9 355.9 402.8 356.7 404.6 357.4 406.5 358.2 408.3 358.9 410.2 359.6 412.0 360.4 413.9 361.1
415.8 361.8 417.6 362.6 419.5 363.3 421.3 364.1 423.2 364.8 425.1 365.5 427.0 366.1 428.9 366.8 430.8 367.4
432.7 368.0 434.6 368.6 436.5 369.1 438.4 369.7 440.4 370.2 442.3 370.7 444.2 371.2 446.2 371.7 448.1 372.3
450.0 372.8 452.0 373.3 453.9 373.7 455.9 374.1 457.8 374.5 459.8 374.9 461.8 375.2 463.7 375.6 465.7 375.9
467.7 376.3 469.7 376.6 471.6 377.0 473.6 377.3 475.6 377.6 477.5 377.9 479.5 378.2 481.5 378.5 483.5 378.8
485.5 379.1 487.4 379.3 489.4 379.6 491.4 379.8 493.4 380.1 495.4 380.3 497.4 380.5 499.4 380.7 501.4 380.9
503.3 381.2 505.3 381.4 507.3 381.6 509.3 381.8 511.3 382.0 513.3 382.2 515.3 382.4 517.3 382.6 519.3 382.8
521.3 383.0 523.2 383.2 525.2 383.4 527.2 383.6 529.2 383.8 531.2 384.0 533.2 384.2 535.2 384.4 537.2 384.6
539.2 384.8 541.2 385.0 543.1 385.2 545.1 385.4 547.1 385.6 549.1 385.8 551.1 386.0 553.1 386.3 555.1 386.5
557.1 386.7 559.1 386.9 561.1 387.1 563.0 387.4 565.0 387.6 567.0 387.8 569.0 388.0 571.0 388.3 573.0 388.5
575.0 388.8 576.9 389.0 578.9 389.3 580.9 389.5 582.9 389.8 584.9 390.1 586.9 390.4 588.8 390.7 590.8 391.0
592.8 391.4 594.7 391.7 596.7 392.1 598.7 392.5 600.6 393.0 602.5 393.5 604.5 394.0 606.4 394.5 608.3 395.0
610.3 395.6 612.2 396.1 614.1 396.7 616.0 397.3 617.9 397.9 619.8 398.5 621.7 399.2 623.6 399.9 625.4 400.7
627.2 401.5 629.1 402.3 630.9 403.2 632.7 404.1 634.4 405.0 636.2 405.9 638.0 406.8 639.8 407.8 641.5 408.7
643.3 409.7 645.0 410.7 646.8 411.7 648.5 412.7 650.2 413.7 651.9 414.7 653.7 415.7 655.4 416.8 657.1 417.8
658.8 418.9 660.5 419.9 662.2 420.9 663.9 422.0 665.6 423.0 667.3 424.1 669.0 425.1 670.7 426.1 672.5 427.1
674.2 428.1 675.9 429.1 677.7 430.1 679.4 431.1 681.2 432.0 682.9 433.0 684.7 434.0 686.4 434.9 688.2 435.9
689.9 436.9 691.7 437.9 693.4 438.9 695.1 439.9 696.9 440.9 698.6 441.9 700.4 442.8 702.1 443.8 703.9 444.8
705.6 445.7 707.4 446.7 709.1 447.6 710.9 448.6 712.7 449.5 714.5 450.4 716.2 451.3 718.0 452.2 719.8 453.1
721.6 453.9 723.4 454.8 725.2 455.7 727.0 456.5 728.9 457.4 730.7 458.2 732.5 459.1 734.3 459.9 736.1 460.8
737.9 461.6 739.7 462.5 741.5 463.3 743.4 464.1 745.2 465.0 747.0 465.8 748.8 466.7 750.6 467.5 752.4 468.3
754.3 469.2 756.1 470.0 757.9 470.8 759.7 471.6 761.6 472.4 763.4 473.2 765.2 474.0 767.1 474.8 768.9 475.6
770.8 476.4 772.6 477.2 774.4 478.0 776.2 478.8 778.0 479.7 779.9 480.5 781.7 481.4 783.5 482.3 785.3 483.1
787.1 484.0 788.9 484.9 790.7 485.8 792.5 486.6 794.2 487.5 796.0 488.5 797.8 489.4 799.6 490.3 801.3 491.3
803.1 492.2 804.8 493.2 806.6 494.2 808.3 495.2 810.0 496.2 811.8 497.1 813.5 498.1 815.3 499.1 817.0 500.1
818.8 501.1 820.5 502.1 822.2 503.1 823.9 504.2 825.5 505.3 827.2 506.4 828.8 507.6 830.5 508.7 832.1 509.9
833.8 511.0 835.4 512.2 837.0 513.4 838.6 514.5 840.2 515.7 841.8 516.9 843.4 518.1 845.0 519.3 846.6 520.6
848.2 521.8 849.7 523.1 851.3 524.3 852.8 525.6 854.4 526.9 855.9 528.2 857.4 529.4 859.0 530.7 860.5 532.0
862.0 533.3 863.5 534.6 865.0 536.0 866.5 537.3 868.0 538.6 869.5 539.9 871.0 541.2 872.5 542.6 874.0 543.9
875.5 545.2 877.1 546.5 878.6 547.8 880.2 549.0 881.7 550.3 883.3 551.5 884.8 552.8 886.3 554.1 887.8 555.5
889.2 556.9 890.6 558.3 892.0 559.8 893.3 561.3 894.7 562.7 896.0 564.2 897.3 565.7 898.7 567.2 900.0 568.7
901.3 570.2 902.6 571.8 903.9 573.3 905.2 574.8 906.4 576.4 907.7 577.9 908.9 579.5 910.2 581.1 911.4 582.7
912.6 584.2 913.8 585.8 915.0 587.5 916.1 589.1 917.3 590.7 918.4 592.4 919.5 594.0 920.6 595.7 921.7 597.4
922.8 599.1 923.9 600.8 924.9 602.4 926.0 604.1 927.1 605.8 928.2 607.5 929.3 609.2 930.3 610.9 931.4 612.6
932.4 614.3 933.5 616.0 934.5 617.7 935.5 619.4 936.5 621.2 937.5 622.9 938.5 624.6 939.5 626.4 940.5 628.1
941.4 629.9 942.4 631.6 943.3 633.4 944.2 635.2 945.2 636.9 946.1 638.7 947.0 640.5 947.9 642.3 948.8 644.1
949.7 645.8 950.7 647.6 951.6 649.4 952.5 651.2 953.4 653.0 954.3 654.8 955.2 656.6 956.1 658.3 957.0 660.1
957.9 661.9 958.7 663.7 959.6 665.5 960.5 667.3 961.4 669.1 962.3 670.9 963.1 672.7 964.0 674.5 964.9 676.3
965.8 678.1 966.7 679.9 967.6 681.7 968.4 683.5 969.3 685.3 970.2 687.0 971.1 688.8 972.0 690.6 972.9 692.4
973.8 694.2 974.7 696.0 975.6 697.8 976.5 699.6 977.4 701.4 978.2 703.2 979.1 705.0 979.9 706.8 980.8 708.6
981.6 710.4 982.5 712.2 983.4 714.0 984.3 715.8 985.3 717.5 986.2 719.3 987.2 721.1 988.1 722.8 989.0 724.6
989.9 726.4 990.7 728.2 991.6 730.0 992.5 731.8 993.4 733.6 994.3 735.4 995.2 737.2 996.1 739.0 997.0 740.8
997.9 742.5 998.8 744.3 999.7 746.1 1000.6 747.9 1001.6 749.6 1002.5 751.4 1003.4 753.2 1004.3 755.0
1005.2 756.8 1006.1 758.6 1007.0 760.4 1007.8 762.2 1008.7 764.0 1009.5 765.8 1010.3 767.6 1011.2 769.4
1012.0 771.3 1012.8 773.1 1013.6 774.9 1014.5 776.7 1015.3 778.5 1016.1 780.4 1017.0 782.2 1017.8 784.0
1018.7 785.8 1019.6 787.6 1020.4 789.4 1021.3 791.2 1022.2 793.0 1023.0 794.8 1023.9 796.6 1024.7 798.4
1025.6 800.2 1026.4 802.1 1027.2 803.9 1028.1 805.7 1028.9 807.5 1029.7 809.3 1030.6 811.2 1031.4 813.0
1032.2 814.8 1033.0 816.6 1033.9 818.4 1034.7 820.3 1035.5 822.1 1036.3 823.9 1037.2 825.7 1038.0 827.6
1038.8 829.4 1039.6 831.2 1040.4 833.0 1041.3 834.9 1042.1 836.7 1042.9 838.5 1043.7 840.3 1044.5 842.2
1045.4 844.0 1046.3 845.8 1047.1 847.6 1048.0 849.4 1048.9 851.2 1049.8 853.0 1050.6 854.8 1051.5 856.6
1052.3 858.4 1053.1 860.3 1053.9 862.1 1054.6 863.9 1055.4 865.8 1056.2 867.6 1057.1 869.4 1057.9 871.2
1058.7 873.1 1059.6 874.9 1060.4 876.7 1061.3 878.5 1062.1 880.3 1062.9 882.2 1063.6 884.0 1064.3 885.9
1064.8 887.8 1065.2 889.8 1065.5 891.7 1065.7 893.7 1065.9 895.7 1066.1 897.7 1066.3 899.7 1066.5 901.7
1066.7 903.7 1066.9 905.7 1067.1 907.7 1067.3 909.7 1067.5 911.6 1067.8 913.6 1068.0 915.6 1068.2 917.6
1068.5 919.6 1068.8 921.6 1069.1 923.5 1069.4 925.5 1069.7 927.5 1070.1 929.5 1070.6 931.4 1071.0 933.4
1071.5 935.3 1072.0 937.2 1072.6 939.1 1073.2 941.0 1073.9 942.9 1074.6 944.8 1075.2 946.7 1075.9 948.6
1076.6 950.5 1077.3 952.3 1077.9 954.2 1078.6 956.1 1079.2 958.0 1079.9 959.9 1080.6 961.8 1081.2 963.7
1081.9 965.6 1082.6 967.4 1083.2 969.3 1083.9 971.2 1084.5 973.1 1085.1 975.0 1085.8 976.9 1086.4 978.8
1086.9 980.7 1087.5 982.7 1088.0 984.6 1088.6 986.5 1089.1 988.5 1089.6 990.4 1090.1 992.3 1090.5 994.3
1090.9 996.3 1091.2 998.2 1091.4 1000.2 1091.6 1002.2 1091.8 1004.2 1091.9 1006.2 1092.0 1008.2 1092.2 1010.2
1092.2 1012.2 1092.3 1014.2 1092.4 1016.2 1092.4 1018.2 1092.5 1020.2 1092.6 1022.2 1092.6 1024.2
1092.7 1026.2 1092.8 1028.2 1092.9 1030.2 1092.9 1032.2 1093.0 1034.2 1093.2 1036.2 1093.3 1038.2
1093.4 1040.2 1093.6 1042.2 1093.7 1044.2 1094.0 1046.1 1094.2 1048.1 1094.6 1050.1 1095.0 1052.0
1095.4 1054.0 1095.9 1055.9 1096.5 1057.9 1097.0 1059.8 1097.6 1061.7 1098.3 1063.6 1098.9 1065.5
1099.6 1067.4 1100.3 1069.2 1100.9 1071.1 1101.5 1073.0 1102.2 1074.9 1102.7 1076.9 1103.3 1078.8
1103.8 1080.7 1104.3 1082.6 1104.8 1084.6 1105.2 1086.5 1105.6 1088.5 1105.9 1090.5 1106.3 1092.4
1106.6 1094.4 1106.9 1096.4 1107.2 1098.4 1107.4 1100.4 1107.7 1102.4 1108.0 1104.3 1108.3 1106.3
1108.6 1108.3 1109.0 1110.3 1109.3 1112.2 1109.7 1114.2 1110.1 1116.1 1110.6 1118.1 1111.0 1120.0
1111.5 1122.0 1112.1 1123.9 1112.6 1125.8 1113.2 1127.8 1113.7 1129.7 1114.3 1131.6 1115.0 1133.5
1115.6 1135.4 1116.2 1137.3 1116.9 1139.2 1117.5 1141.1 1118.1 1143.0 1118.8 1144.9 1119.4 1146.8
1120.0 1148.7 1120.6 1150.6 1121.2 1152.5 1121.7 1154.4 1122.3 1156.3 1122.9 1158.3 1123.4 1160.2
1123.8 1162.1 1124.2 1164.1 1124.7 1166.0 1125.0 1168.0 1125.4 1170.0 1125.8 1171.9 1126.2 1173.9
1126.6 1175.9 1127.0 1177.8 1127.5 1179.8 1128.0 1181.7 1128.5 1183.6 1129.1 1185.5 1129.7 1187.4
1130.3 1189.3 1130.9 1191.2 1131.6 1193.1 1132.2 1195.0 1132.9 1196.9 1133.5 1198.8 1134.2 1200.7
1134.9 1202.6 1135.6 1204.5 1136.2 1206.3 1136.9 1208.2 1137.6 1210.1 1138.2 1212.0 1138.9 1213.9
1139.6 1215.8 1140.2 1217.7 1140.9 1219.5 1141.6 1221.4 1142.2 1223.3 1142.9 1225.2 1143.6 1227.1
1144.3 1229.0 1145.0 1230.8 1145.7 1232.7 1146.4 1234.6 1147.2 1236.4 1147.9 1238.3 1148.8 1240.1
1149.6 1241.9 1150.5 1243.7 1151.4 1245.5 1152.4 1247.2 1153.4 1249.0 1154.4 1250.7 1155.5 1252.4
1156.6 1254.0 1157.9 1255.6 1159.2 1257.1 1160.7 1258.4 1162.3 1259.5 1164.0 1260.3 1165.9 1261.0
1167.8 1261.5 1169.8 1261.9 1171.7 1262.2 1173.7 1262.5 1175.7 1262.7 1177.7 1262.9 1179.7 1263.1
1181.7 1263.3 1183.7 1263.6 1185.7 1263.8 1187.7 1264.0 1189.7 1264.2 1191.6 1264.4 1193.6 1264.6
1195.6 1264.8 1197.6 1265.1 1199.6 1265.3 1201.6 1265.5 1203.6 1265.8 1205.5 1266.0 1207.5 1266.3
1209.5 1266.5 1211.5 1266.8 1213.5 1267.0 1215.5 1267.3 1217.5 1267.6 1219.4 1267.8 1221.4 1268.0
1223.4 1268.3 1225.4 1268.5 1227.4 1268.7 1229.4 1268.9 1231.4 1269.2 1233.3 1269.4 1235.3 1269.7
1237.3 1269.9 1239.3 1270.2 1241.3 1270.4 1243.3 1270.7 1245.2 1271.0 1247.2 1271.2 1249.2 1271.5
1251.2 1271.8 1253.2 1272.1 1255.2 1272.3 1257.1 1272.6 1259.1 1272.8 1261.1 1273.1 1263.1 1273.3
1265.1 1273.5 1267.1 1273.7 1269.1 1274.0 1271.1 1274.2 1273.0 1274.4 1275.0 1274.6 1277.0 1274.8
1279.0 1275.0 1281.0 1275.2 1283.0 1275.4 1285.0 1275.7 1287.0 1275.9 1288.9 1276.1 1290.9 1276.4
1292.9 1276.6 1294.9 1276.8 1296.9 1277.0 1298.9 1277.2 1300.9 1277.4 1302.9 1277.6 1304.9 1277.8
1306.9 1278.0 1308.8 1278.2 1310.8 1278.4 1312.8 1278.5 1314.8 1278.7 1316.8 1278.9 1318.8 1279.0
1320.8 1279.2 1322.8 1279.3 1324.8 1279.5 1326.8 1279.6 1328.8 1279.8 1330.8 1280.0 1332.8 1280.2
1334.8 1280.4 1336.7 1280.6 1338.7 1280.9 1340.7 1281.1 1342.7 1281.4 1344.7 1281.6 1346.7 1281.8
1348.7 1282.0 1350.7 1282.2 1352.6 1282.4 1354.6 1282.6 1356.6 1282.7 1358.6 1282.9 1360.6 1283.1
1362.6 1283.2 1364.6 1283.4 1366.6 1283.6 1368.6 1283.7 1370.6 1283.9 1372.6 1284.1 1374.6 1284.2
1376.6 1284.4 1378.6 1284.5 1380.6 1284.7 1382.6 1284.9 1384.5 1285.0 1386.5 1285.2 1388.5 1285.4
1390.5 1285.5 1392.5 1285.7 1394.5 1285.8 1396.5 1286.0 1398.5 1286.2 1400.5 1286.3 1402.5 1286.5
1404.5 1286.6 1406.5 1286.8 1408.5 1286.9 1410.5 1287.1 1412.5 1287.3 1414.5 1287.4 1416.5 1287.6
1418.4 1287.7 1420.4 1287.9 1422.4 1288.0 1424.4 1288.1 1426.4 1288.3 1428.4 1288.4 1430.4 1288.6
1432.4 1288.7 1434.4 1288.9 1436.4 1289.0 1438.4 1289.1 1440.4 1289.3 1442.4 1289.4 1444.4 1289.6
1446.4 1289.7 1448.4 1289.8 1450.4 1290.0 1452.4 1290.1 1454.4 1290.2 1456.4 1290.4 1458.4 1290.5
1460.4 1290.7 1462.4 1290.8 1464.3 1290.9 1466.3 1291.1 1468.3 1291.2 1470.3 1291.3 1472.3 1291.5
1474.3 1291.6 1476.3 1291.7 1478.3 1291.9 1480.3 1292.0 1482.3 1292.1 1484.3 1292.3 1486.3 1292.4
1488.3 1292.5 1490.3 1292.7 1492.3 1292.8 1494.3 1292.9 1496.3 1293.1 1498.3 1293.2 1500.3 1293.3
1502.3 1293.5 1504.3 1293.6 1506.3 1293.8 1508.3 1293.9 1510.3 1294.0 1512.2 1294.2 1514.2 1294.3
1516.2 1294.5 1518.2 1294.6 1520.2 1294.8 1522.2 1294.9 1524.2 1295.0 1526.2 1295.2 1528.2 1295.3
1530.2 1295.5 1532.2 1295.6 1534.2 1295.8 1536.2 1295.9 1538.2 1296.1 1540.2 1296.3 1542.2 1296.4
1544.2 1296.6 1546.2 1296.7 1548.2 1296.9 1550.1 1297.0 1552.1 1297.2 1554.1 1297.4 1556.1 1297.5
1558.1 1297.7 1560.1 1297.8 1562.1 1298.0 1564.1 1298.2 1566.1 1298.3 1568.1 1298.5 1570.1 1298.6
1572.1 1298.8 1574.1 1299.0 1576.1 1299.1 1578.1 1299.3 1580.1 1299.5 1582.0 1299.6 1584.0 1299.8
1586.0 1300.0 1588.0 1300.1 1590.0 1300.3 1592.0 1300.5 1594.0 1300.6 1596.0 1300.8 1598.0 1301.0
1600.0 1301.1 1602.0 1301.3 1604.0 1301.5 1606.0 1301.6 1608.0 1301.8 1610.0 1302.0 1611.9 1302.2
1613.9 1302.3 1615.9 1302.5 1617.9 1302.7 1619.9 1302.9 1621.9 1303.0 1623.9 1303.2 1625.9 1303.4
1627.9 1303.6 1629.9 1303.8 1631.9 1303.9 1633.9 1304.1 1635.9 1304.3 1637.9 1304.5 1639.8 1304.6
1641.8 1304.8 1643.8 1305.0 1645.8 1305.2 1647.8 1305.4 1649.8 1305.5 1651.8 1305.7 1653.8 1305.9
1655.8 1306.1 1657.8 1306.2 1659.8 1306.4 1661.8 1306.6 1663.8 1306.8 1665.7 1306.9 1667.7 1307.1
1669.7 1307.3 1671.7 1307.5 1673.7 1307.7 1675.7 1307.8 1677.7 1308.0 1679.7 1308.2 1681.7 1308.4
1683.7 1308.6 1685.7 1308.7 1687.7 1308.9 1689.7 1309.1 1691.6 1309.3 1693.6 1309.5 1695.6 1309.6
1697.6 1309.8 1699.6 1310.0 1701.6 1310.2 1703.6 1310.4 1705.6 1310.5 1707.6 1310.7 1709.6 1310.9
1711.6 1311.1 1713.6 1311.2 1715.6 1311.4 1717.6 1311.6 1719.5 1311.7 1721.5 1311.9 1723.5 1312.1
1725.5 1312.2 1727.5 1312.4 1729.5 1312.6 1731.5 1312.7 1733.5 1312.9 1735.5 1313.1 1737.5 1313.2
1739.5 1313.4 1741.5 1313.5 1743.5 1313.7 1745.5 1313.8 1747.5 1314.0 1749.5 1314.1 1751.5 1314.3
1753.4 1314.4 1755.4 1314.5 1757.4 1314.7 1759.4 1314.8 1761.4 1315.0 1763.4 1315.1 1765.4 1315.3
1767.4 1315.4 1769.4 1315.6 1771.4 1315.7 1773.4 1315.8 1775.4 1316.0 1777.4 1316.1 1779.4 1316.3
1781.4 1316.4 1783.4 1316.5 1785.4 1316.7 1787.4 1316.8 1789.4 1317.0 1791.4 1317.1 1793.4 1317.2
1795.4 1317.4 1797.3 1317.5 1799.3 1317.7 1801.3 1317.8 1803.3 1317.9 1805.3 1318.1 1807.3 1318.2
1809.3 1318.4 1811.3 1318.5 1813.3 1318.6 1815.3 1318.8 1817.3 1318.9 1819.3 1319.1 1821.3 1319.2
1823.3 1319.3 1825.3 1319.5 1827.3 1319.6 1829.3 1319.8 1831.3 1319.9 1833.3 1320.0 1835.3 1320.2
1837.3 1320.3 1839.3 1320.4 1841.2 1320.6 1843.2 1320.7 1845.2 1320.9 1847.2 1321.0 1849.2 1321.1
1851.2 1321.3 1853.2 1321.4 1855.2 1321.5 1857.2 1321.7 1859.2 1321.8 1861.2 1322.0 1863.2 1322.1
1865.2 1322.2 1867.2 1322.4 1869.2 1322.5 1871.2 1322.6 1873.2 1322.8 1875.2 1322.9 1877.2 1323.0
1879.2 1323.2 1881.2 1323.3 1883.2 1323.4 1885.2 1323.6 1887.2 1323.7 1889.1 1323.8 1891.1 1324.0
1893.1 1324.1 1895.1 1324.2 1897.1 1324.4 1899.1 1324.5 1901.1 1324.6 1903.1 1324.8 1905.1 1324.9
1907.1 1325.0 1909.1 1325.2 1911.1 1325.3 1913.1 1325.4 1915.1 1325.6 1917.1 1325.7 1919.1 1325.8
1921.1 1326.0 1923.1 1326.1 1925.1 1326.2 1927.1 1326.4 1929.1 1326.5 1931.1 1326.6 1933.1 1326.7
1935.1 1326.9 1937.1 1327.0 1939.1 1327.1 1941.0 1327.3 1943.0 1327.4 1945.0 1327.5 1947.0 1327.6
1949.0 1327.8 1951.0 1327.9 1953.0 1328.0 1955.0 1328.2 1957.0 1328.3 1959.0 1328.4 1961.0 1328.5
1963.0 1328.7 1965.0 1328.8 1967.0 1328.9 1968.5 1329.0"/>
</g>
<g>
<line x1="1673" y1="50.0" x2="1828" y2="50.0" stroke="#000" stroke-width="4.0" stroke-linecap="round"/>
<text class="leg" transform="translate(1847 74.0) scale(1 1.05)">SBA</text>
<line x1="1673" y1="135.0" x2="1828" y2="135.0" stroke="#f00" stroke-width="4.0" stroke-linecap="round"/>
<text class="leg" transform="translate(1847 159.0) scale(1 1.05)">Bn-fSBA</text>
<line x1="1673" y1="219.5" x2="1828" y2="219.5" stroke="#00f" stroke-width="5.0" stroke-linecap="round"/>
<text class="leg" transform="translate(1847 244.0) scale(1 1.05)">Ru(2)-cBn-fSBA</text>
</g>
</svg>
</body>
</html>
